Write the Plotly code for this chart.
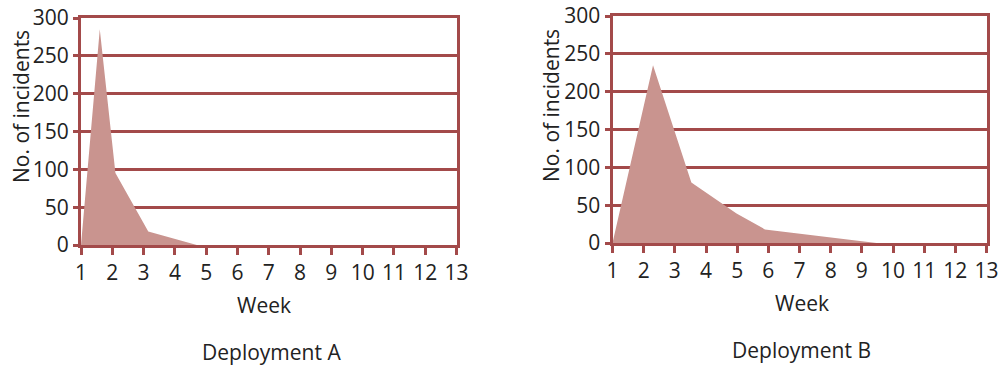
import plotly.graph_objects as go

weeks_a = [1, 1.6, 2.1, 3.15, 4.7, 13]
incidents_a = [0, 285, 95, 18, 0, 0]

weeks_b = [1, 2.3, 3.53, 4.98, 5.89, 9.47, 13]
incidents_b = [0, 235, 80, 39, 18, 0, 0]

x_ticks = list(range(1, 14))
y_ticks = [0, 50, 100, 150, 200, 250, 300]

LINE = "#a34a4a"
FILL = "#c9948f"
FONT = "Open Sans"
FS = 21
TFS = 21

W, H = 1000, 365

def px(x):
    return x / W

def py(y):
    return 1 - y / H

fig = go.Figure()
fig.add_trace(go.Scatter(x=weeks_a, y=incidents_a, mode="lines", fill="tozeroy",
                         line=dict(width=0, color=FILL), fillcolor=FILL,
                         xaxis="x", yaxis="y", hoverinfo="skip"))
fig.add_trace(go.Scatter(x=weeks_b, y=incidents_b, mode="lines", fill="tozeroy",
                         line=dict(width=0, color=FILL), fillcolor=FILL,
                         xaxis="x2", yaxis="y2", hoverinfo="skip"))

xcommon = dict(range=[1, 13], tickvals=x_ticks, showgrid=False, zeroline=False,
               showline=True, linecolor=LINE, linewidth=3, mirror=True,
               ticks="outside", ticklen=7, tickwidth=3, tickcolor=LINE,
               automargin=False, ticklabeloverflow="allow",
               tickfont=dict(family=FONT, size=TFS, color="#222"))
ycommon = dict(range=[0, 300], tickvals=y_ticks, showgrid=True, gridcolor=LINE,
               gridwidth=3, zeroline=False, showline=True, linecolor=LINE,
               linewidth=3, mirror=True, ticks="outside", ticklen=5, tickwidth=3,
               tickcolor=LINE, automargin=False, ticklabeloverflow="allow",
               tickfont=dict(family=FONT, size=TFS, color="#222"))

fig.update_layout(
    width=W, height=H, margin=dict(l=0, r=0, t=0, b=0, autoexpand=False),
    paper_bgcolor="white", plot_bgcolor="white", showlegend=False,
    xaxis=dict(domain=[px(81), px(456.5)], anchor="y", **xcommon),
    yaxis=dict(domain=[py(245), py(18)], anchor="x", **ycommon),
    xaxis2=dict(domain=[px(612.5), px(986.5)], anchor="y2", **xcommon),
    yaxis2=dict(domain=[py(243), py(16)], anchor="x2", **ycommon),
)

def txt(x, y, s, angle=0):
    fig.add_annotation(x=px(x), y=py(y), xref="paper", yref="paper", text=s,
                       showarrow=False, textangle=angle, xanchor="center",
                       yanchor="middle",
                       font=dict(family=FONT, size=FS, color="#222"))

txt(21, 107, "No. of incidents", -90)
txt(551, 106, "No. of incidents", -90)
txt(264, 305, "Week")
txt(802, 303, "Week")
txt(271, 352, "Deployment A")
txt(801, 350, "Deployment B")

fig.write_html(
    "out.html",
    config={"displayModeBar": False},
    post_script="document.body.style.margin='0';document.body.style.overflow='hidden';",
)
